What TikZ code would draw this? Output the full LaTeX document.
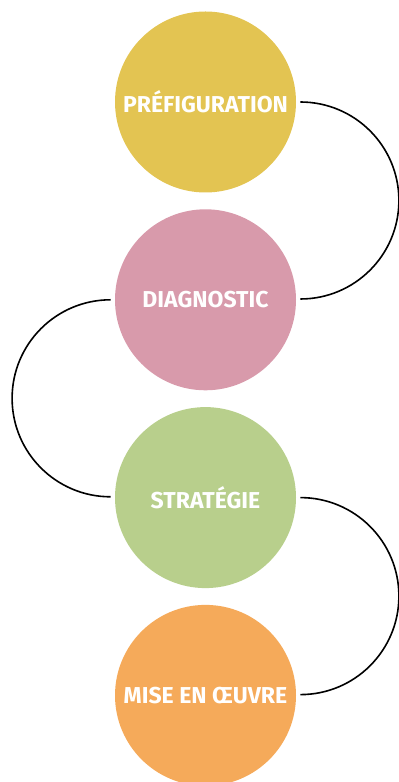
\documentclass[tikz,border=0pt]{standalone}
\usepackage{fontspec}
\setsansfont{Fira Sans}
\usetikzlibrary{positioning}

\definecolor{prefig}{HTML}{E3C452}
\definecolor{diag}{HTML}{D89AAB}
\definecolor{strat}{HTML}{B8CF8C}
\definecolor{oeuvre}{HTML}{F5AA5A}

\tikzset{
  phase/.style={circle, minimum size=90.5pt, inner sep=0pt, text=white,
    font=\sffamily\bfseries\fontsize{11.5}{13}\selectfont},
  link/.style={draw=black, line width=0.8pt}
}

\begin{document}
\begin{tikzpicture}[x=0.5pt,y=0.5pt]
\useasboundingbox (0,0) rectangle (399,782);

\node[phase, fill=prefig] (prefig) at (205.5,680) {PRÉFIGURATION};
\node[phase, fill=diag, below=8pt of prefig] (diag) {DIAGNOSTIC};
\node[phase, fill=strat, below=8pt of diag] (strat) {STRATÉGIE};
\node[phase, fill=oeuvre, below=8pt of strat] (oeuvre) {MISE EN ŒUVRE};

% half circles linking the phases
\draw[link] ([xshift=2pt]prefig.east) arc[start angle=90, end angle=-90, radius=49.25pt];
\draw[link] ([xshift=-2pt]diag.west) arc[start angle=90, end angle=270, radius=49.25pt];
\draw[link] ([xshift=2pt]strat.east) arc[start angle=90, end angle=-90, radius=49.25pt];

\end{tikzpicture}
\end{document}
